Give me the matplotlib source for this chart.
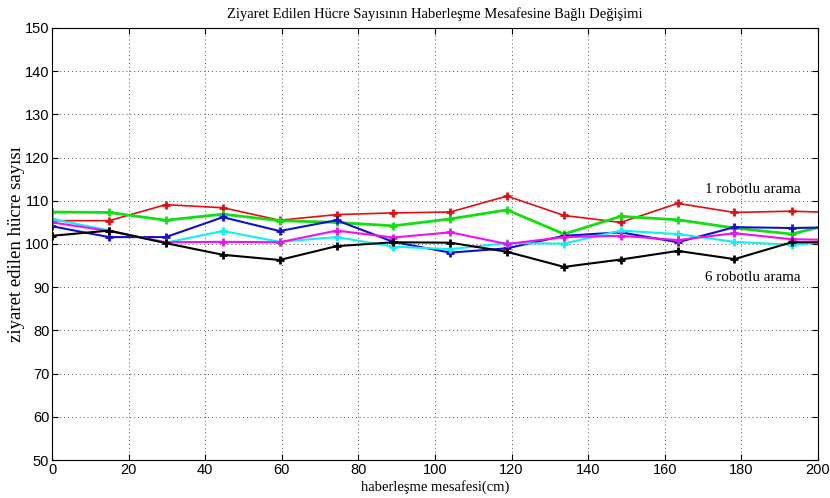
import numpy as np
import matplotlib.pyplot as plt

# haberleşme mesafesi (cm), son nokta eksen sonuna kadar uzatılıyor
mesafe = [0, 14.9, 29.7, 44.6, 59.4, 74.3, 89.1, 104.0, 118.8, 133.7, 148.5, 163.4, 178.2, 193.1, 200]

# ziyaret edilen hücre sayıları (robot sayısına göre)
robot1 = [105.4, 105.4, 109.1, 108.4, 105.5, 106.8, 107.2, 107.4, 111.1, 106.6, 105.0, 109.4, 107.3, 107.6, 107.4]
robot2 = [107.4, 107.3, 105.5, 106.9, 105.4, 105.0, 104.2, 105.8, 107.9, 102.3, 106.4, 105.6, 103.7, 102.3, 103.8]
robot3 = [104.1, 101.6, 101.6, 106.2, 103.0, 105.5, 100.5, 98.0, 99.0, 101.9, 102.7, 100.4, 103.9, 103.7, 103.8]
robot4 = [105.8, 103.1, 100.3, 103.0, 100.5, 101.6, 99.4, 98.8, 100.2, 100.1, 103.1, 102.3, 100.5, 99.8, 100.3]
robot5 = [105.0, 103.0, 100.4, 100.5, 100.4, 103.1, 101.5, 102.7, 100.0, 101.6, 101.9, 100.9, 102.5, 101.1, 101.0]
robot6 = [101.9, 103.1, 100.2, 97.5, 96.3, 99.5, 100.4, 100.3, 98.2, 94.7, 96.4, 98.4, 96.5, 100.4, 100.4]

serif = 'Liberation Serif'
sans = 'Liberation Sans'

fig = plt.figure(figsize=(8.3, 4.98), dpi=100)
ax = fig.add_axes([0.0627, 0.0763, 0.9228, 0.8675])

seriler = [
    (robot1, '#e0100f', 1.2),
    (robot2, '#10e010', 2.0),
    (robot3, '#1010d0', 1.5),
    (robot4, '#10f0f0', 1.5),
    (robot5, '#f010f0', 1.5),
    (robot6, '#000000', 1.5),
]
for y, renk, lw in seriler:
    ax.plot(mesafe, y, color=renk, lw=lw, marker='+', ms=6, mew=2,
            markevery=slice(0, len(mesafe) - 1))

ax.set_xlim(0, 200)
ax.set_ylim(50, 150)
ax.set_xticks(np.arange(0, 201, 20))
ax.set_yticks(np.arange(50, 151, 10))
ax.grid(True, linestyle=(0, (1, 3)), color='#555555', linewidth=0.7)
ax.tick_params(direction='in', length=4, width=0.8, labelsize=10.5, pad=2,
               top=True, right=True)
for lbl in ax.get_xticklabels() + ax.get_yticklabels():
    lbl.set_family(sans)

ax.set_title('Ziyaret Edilen Hücre Sayısının Haberleşme Mesafesine Bağlı Değişimi',
             family=serif, fontsize=10.5, pad=7)
ax.set_xlabel('haberleşme mesafesi(cm)', family=serif, fontsize=10.5, labelpad=2)
ax.set_ylabel('ziyaret edilen hücre sayısı', family=serif, fontsize=13.5, labelpad=0)

ax.text(170.5, 112.5, '1 robotlu arama', family=serif, fontsize=10.8, va='center')
ax.text(170.5, 92.3, '6 robotlu arama', family=serif, fontsize=10.8, va='center')

fig.savefig('out.png', dpi=100)
